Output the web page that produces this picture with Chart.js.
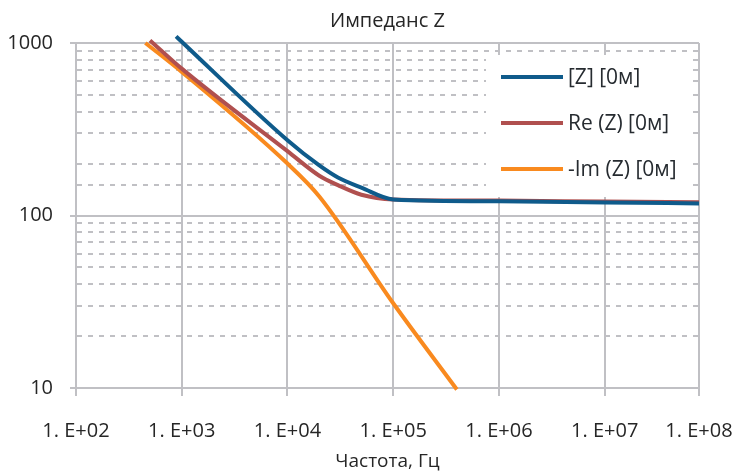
<!DOCTYPE html>
<html>
<head>
<meta charset="utf-8">
<script src="https://cdn.jsdelivr.net/npm/chart.js@4/dist/chart.umd.min.js"></script>
<style>
  html, body { margin: 0; padding: 0; background: #fff; }
</style>
</head>
<body>
<canvas id="impChart" width="732" height="473"></canvas>
<script>
const seriesNames = ["[Z] [0м]", "Re (Z) [0м]", "-Im (Z) [0м]"];
const seriesColors = ["#0f5b8b", "#b0504f", "#f98a1f"];

// |Z|
const freqZ = [885, 1000, 10000, 20000, 30000, 50000, 100000, 1000000, 10000000, 78000000];
const valZ = [1092, 1017, 273, 195, 166, 145, 124, 121, 119, 117.5];

// Re(Z)
const freqRe = [501, 1000, 10000, 20000, 30000, 50000, 100000, 1000000, 10000000, 78000000];
const valRe = [1035, 710, 236, 170, 150, 132, 124, 122, 120.5, 119.5];

// -Im(Z)
const freqIm = [453, 1000, 10000, 20000, 100000, 400000];
const valIm = [1000, 680, 200, 129, 31, 9.8];

const xTickValues = [1e2, 1e3, 1e4, 1e5, 1e6, 1e7, 78000000];
const xTickLabels = ["1. E+02", "1. E+03", "1. E+04", "1. E+05", "1. E+06", "1. E+07", "1. E+08"];
const yTickValues = [10, 100, 1000];
const yTickLabels = ["10", "100", "1000"];

const chartTitle = "Импеданс Z";
const xTitle = "Частота, Гц";

const FONT = "'Open Sans', sans-serif";
const gridGray = "#c0c0c4";

function toPoints(xs, ys) {
  return xs.map((x, i) => ({ x: x, y: ys[i] }));
}

function isDecade(v) {
  const l = Math.log10(v);
  return Math.abs(l - Math.round(l)) < 1e-9;
}

const datasets = [
  toPoints(freqZ, valZ),
  toPoints(freqRe, valRe),
  toPoints(freqIm, valIm),
].map((pts, i) => ({
  label: seriesNames[i],
  data: pts,
  borderColor: seriesColors[i],
  backgroundColor: seriesColors[i],
  borderWidth: 4,
  pointRadius: 0,
  cubicInterpolationMode: "monotone",
  clip: false,
  order: i + 1,
}));

// legend box inside plot + title centred on plot area
const insideLegend = {
  id: "insideLegend",
  beforeDatasetsDraw(chart) {
    const { ctx, chartArea } = chart;
    const r = chartArea.right;
    const t = chartArea.top;
    ctx.save();
    ctx.fillStyle = "#ffffff";
    ctx.fillRect(r - 213, t + 12, 206, 142);
    ctx.font = "21px " + FONT;
    ctx.textBaseline = "middle";
    ctx.textAlign = "left";
    seriesNames.forEach((name, i) => {
      const y = t + 34 + i * 46;
      ctx.strokeStyle = seriesColors[i];
      ctx.lineWidth = 4;
      ctx.beginPath();
      ctx.moveTo(r - 198, y);
      ctx.lineTo(r - 136, y);
      ctx.stroke();
      ctx.fillStyle = "#262b30";
      ctx.fillText(name, r - 131, y + 1);
    });
    ctx.restore();
  },
  afterDraw(chart) {
    const { ctx, chartArea } = chart;
    ctx.save();
    ctx.font = "20px " + FONT;
    ctx.fillStyle = "#262626";
    ctx.textAlign = "center";
    ctx.textBaseline = "middle";
    ctx.fillText(chartTitle, (chartArea.left + chartArea.right) / 2, 21);
    ctx.restore();
  },
};

const config = {
  type: "line",
  data: { datasets: datasets },
  options: {
    responsive: false,
    animation: false,
    layout: { padding: { top: 43, left: 8, right: 33, bottom: 0 } },
    plugins: {
      legend: { display: false },
      title: { display: false },
      tooltip: { enabled: false },
    },
    scales: {
      x: {
        type: "logarithmic",
        min: 100,
        max: 78000000,
        afterBuildTicks: (scale) => {
          scale.ticks = xTickValues.map((v) => ({ value: v, major: true }));
        },
        afterFit: (scale) => {
          scale.height = 85;
          scale.paddingLeft = 0;
          scale.paddingRight = 0;
        },
        ticks: {
          autoSkip: false,
          maxRotation: 0,
          padding: 23,
          color: "#262626",
          font: { family: FONT, size: 20 },
          callback: (value) => {
            const idx = xTickValues.indexOf(value);
            return idx >= 0 ? xTickLabels[idx] : "";
          },
        },
        grid: {
          color: gridGray,
          lineWidth: 2,
          tickLength: 8,
          tickColor: gridGray,
        },
        border: { display: true, color: gridGray, width: 2 },
        title: {
          display: true,
          text: xTitle,
          color: "#262626",
          font: { family: FONT, size: 19 },
          padding: { top: 6, bottom: 0 },
        },
      },
      y: {
        type: "logarithmic",
        min: 10,
        max: 1000,
        afterFit: (scale) => {
          scale.width = 68;
          scale.paddingTop = 0;
          scale.paddingBottom = 0;
        },
        ticks: {
          autoSkip: false,
          padding: 17,
          color: "#262626",
          font: { family: FONT, size: 20 },
          callback: (value) => {
            const idx = yTickValues.indexOf(value);
            return idx >= 0 ? yTickLabels[idx] : "";
          },
        },
        grid: {
          lineWidth: 2,
          tickLength: 6,
          color: gridGray,
          tickColor: (c) => (c.tick && isDecade(c.tick.value) ? gridGray : "rgba(0,0,0,0)"),
        },
        border: {
          display: true,
          color: gridGray,
          width: 2,
          dash: (c) => (c.tick && !isDecade(c.tick.value) ? [5, 6] : []),
        },
      },
    },
  },
  plugins: [insideLegend],
};

const canvas = document.getElementById("impChart");
if (canvas) {
  new Chart(canvas.getContext("2d"), config);
} else {
  console.error("canvas not found");
}
</script>
</body>
</html>
